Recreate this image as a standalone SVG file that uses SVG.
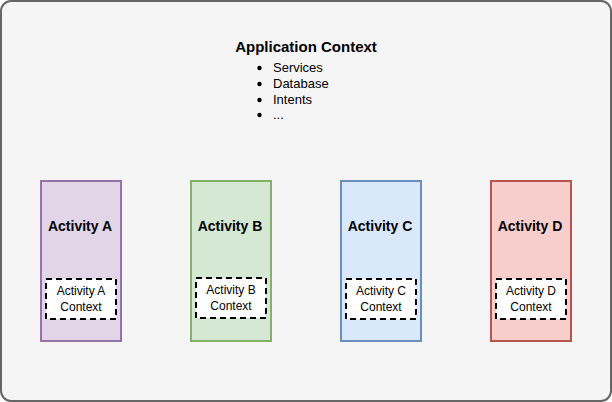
<svg xmlns="http://www.w3.org/2000/svg" width="612" height="402" viewBox="0 0 612 402">
<style>
text{font-family:"Liberation Sans",Arial,sans-serif;fill:#000}
.act{stroke-width:2}
.t{font-size:14px;font-weight:bold;text-anchor:middle}
.ctx{fill:#fff;stroke:#000;stroke-width:2;stroke-dasharray:6 4}
.c{font-size:12px;text-anchor:middle}
.li{font-size:13px}
</style>
<g id="app">
<rect x="1" y="1" width="610" height="400" rx="10" fill="#f5f5f5" stroke="#666" stroke-width="2"/>
<text x="306" y="52" class="t" style="font-size:15px">Application Context</text>
<g>
<circle cx="259.5" cy="68" r="2.2"/><circle cx="259.5" cy="84" r="2.2"/><circle cx="259.5" cy="100" r="2.2"/><circle cx="259.5" cy="115" r="2.2"/>
<text x="273" y="72" class="li">Services</text>
<text x="273" y="88" class="li">Database</text>
<text x="273" y="104" class="li">Intents</text>
<text x="273" y="119" class="li">...</text>
</g>
</g>
<g id="actA">
<rect x="41" y="181" width="80" height="160" fill="#e1d5e7" stroke="#9673a6" class="act"/>
<text x="80" y="231" class="t">Activity A</text>
<rect x="46" y="279" width="70" height="40" class="ctx"/>
<text x="81" y="295" class="c">Activity A</text>
<text x="81" y="311" class="c">Context</text>
</g>
<g id="actB">
<rect x="191" y="181" width="80" height="160" fill="#d5e8d4" stroke="#82b366" class="act"/>
<text x="230" y="231" class="t">Activity B</text>
<rect x="196" y="278" width="70" height="40" class="ctx"/>
<text x="231" y="294" class="c">Activity B</text>
<text x="231" y="310" class="c">Context</text>
</g>
<g id="actC">
<rect x="341" y="181" width="80" height="160" fill="#dae8fc" stroke="#6c8ebf" class="act"/>
<text x="380" y="231" class="t">Activity C</text>
<rect x="346" y="279" width="70" height="40" class="ctx"/>
<text x="381" y="295" class="c">Activity C</text>
<text x="381" y="311" class="c">Context</text>
</g>
<g id="actD">
<rect x="491" y="181" width="80" height="160" fill="#f8cecc" stroke="#b85450" class="act"/>
<text x="530" y="231" class="t">Activity D</text>
<rect x="496" y="279" width="70" height="40" class="ctx"/>
<text x="531" y="295" class="c">Activity D</text>
<text x="531" y="311" class="c">Context</text>
</g>
<g id="connectors"/>
</svg>
